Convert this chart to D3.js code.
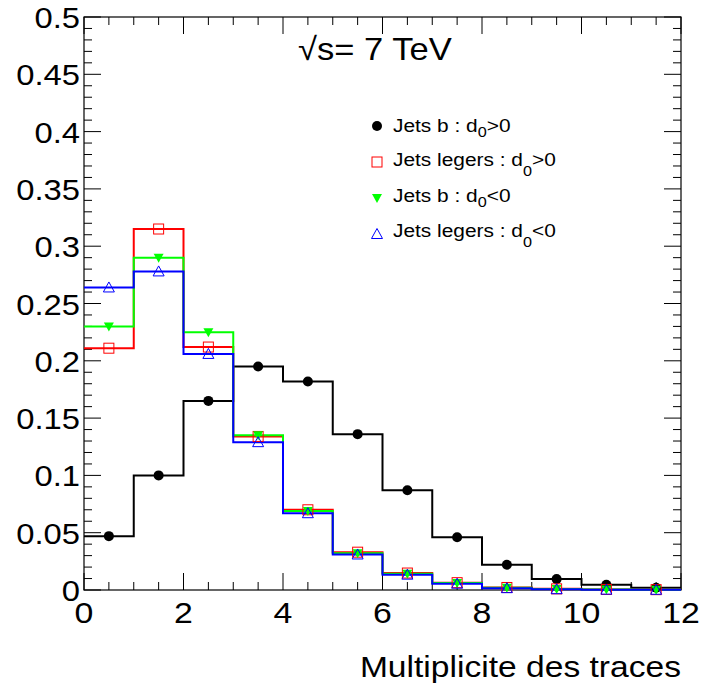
<!DOCTYPE html>
<html><head><meta charset="utf-8">
<script src="https://cdn.jsdelivr.net/npm/d3@7"></script>
<style>body{margin:0;background:#fff}svg text{font-family:"Liberation Sans",Arial,Helvetica,sans-serif}</style>
</head><body>
<svg id="c" width="701" height="692"></svg>
<script>
const binEdges = [0,1,2,3,4,5,6,7,8,9,10,11,12];
const binCenters = [0.5,1.5,2.5,3.5,4.5,5.5,6.5,7.5,8.5,9.5,10.5,11.5];
const jetsBPos   = [0.047,0.100,0.165,0.195,0.182,0.136,0.087,0.046,0.022,0.0095,0.0045,0.002];
const legersPos  = [0.211,0.315,0.212,0.134,0.070,0.033,0.0148,0.0064,0.0022,0.0010,0.0005,0.0003];
const jetsBNeg   = [0.230,0.290,0.225,0.135,0.069,0.032,0.0142,0.0060,0.0020,0.0009,0.0004,0.0002];
const legersNeg  = [0.264,0.278,0.206,0.129,0.067,0.031,0.0134,0.0055,0.0016,0.0007,0.0003,0.0002];
const yTicks = [0,0.05,0.1,0.15,0.2,0.25,0.3,0.35,0.4,0.45,0.5];
const yTickLabels = ["0","0.05","0.1","0.15","0.2","0.25","0.3","0.35","0.4","0.45","0.5"];
const xTicks = [0,2,4,6,8,10,12];
const legendLabels = ["Jets b : d","Jets legers : d","Jets b : d","Jets legers : d"];
const legendTails = [">0",">0","<0","<0"];

const L=84,R=681,T=17,B=590;
const svg=d3.select("#c");
const x=d3.scaleLinear().domain([0,12]).range([L,R]);
const y=d3.scaleLinear().domain([0,0.5]).range([B,T]);

function txt(px,py,size,anchor,sx){
  return svg.append("text").attr("transform",`translate(${px},${py}) scale(${sx},1)`)
    .attr("font-size",size).attr("text-anchor",anchor||"start");
}

// frame
svg.append("rect").attr("x",L).attr("y",T).attr("width",R-L).attr("height",B-T)
  .attr("fill","none").attr("stroke","#000").attr("stroke-width",1.2);

// ticks
const g=svg.append("g").attr("stroke","#000").attr("stroke-width",1);
d3.range(0,12.01,0.5).forEach(v=>{
  const major=Math.abs(v/2-Math.round(v/2))<1e-6;
  const len=major?17:8;
  g.append("line").attr("x1",x(v)).attr("x2",x(v)).attr("y1",B).attr("y2",B-len);
  g.append("line").attr("x1",x(v)).attr("x2",x(v)).attr("y1",T).attr("y2",T+len);
});
d3.range(0,0.5001,0.01).forEach(v=>{
  const major=Math.abs(v/0.05-Math.round(v/0.05))<1e-6;
  const len=major?17:8;
  g.append("line").attr("y1",y(v)).attr("y2",y(v)).attr("x1",L).attr("x2",L+len);
  g.append("line").attr("y1",y(v)).attr("y2",y(v)).attr("x1",R).attr("x2",R-len);
});

// tick labels
yTicks.forEach((v,i)=>{
  txt(L-4,y(v)+11,29,"end",1.13).text(yTickLabels[i]);
});
xTicks.forEach(v=>{
  txt(x(v),623,30,"middle",1.13).text(v);
});
txt(R,677,30,"end",1.12).text("Multiplicite des traces");

// title
const tt=txt(298,60,32,"start",1.08);
tt.append("tspan").text("\u221A");
tt.append("tspan").text("s= 7 TeV");

// series
const series=[
  {vals:jetsBPos,color:"#000000",marker:"circle"},
  {vals:legersPos,color:"#ff0000",marker:"square"},
  {vals:jetsBNeg,color:"#00ff00",marker:"tridown"},
  {vals:legersNeg,color:"#0000ff",marker:"triup"}
];
function stepPath(vals){
  let p="";
  vals.forEach((v,i)=>{
    const x0=x(binEdges[i]),x1=x(binEdges[i+1]),yy=y(v);
    p+=(i===0?"M":"L")+x0+","+yy+"L"+x1+","+yy;
  });
  return p;
}
function drawMarker(sel,type,cx,cy,color){
  if(type==="circle") sel.append("circle").attr("cx",cx).attr("cy",cy).attr("r",5).attr("fill",color);
  else if(type==="square") sel.append("rect").attr("x",cx-5).attr("y",cy-5).attr("width",10).attr("height",10)
    .attr("fill","none").attr("stroke",color).attr("stroke-width",1);
  else if(type==="tridown") sel.append("path").attr("d",`M${cx-5},${cy-4}L${cx+5},${cy-4}L${cx},${cy+5}Z`).attr("fill",color);
  else sel.append("path").attr("d",`M${cx-5.5},${cy+4.5}L${cx+5.5},${cy+4.5}L${cx},${cy-5.5}Z`)
    .attr("fill","none").attr("stroke",color).attr("stroke-width",1);
}
series.forEach(s=>{
  svg.append("path").attr("d",stepPath(s.vals)).attr("fill","none").attr("stroke",s.color).attr("stroke-width",2);
});
series.forEach(s=>{
  const gg=svg.append("g");
  s.vals.forEach((v,i)=>drawMarker(gg,s.marker,x(binCenters[i]),y(v),s.color));
});

// legend
const markY=[126,162,198,234];
const baseY=[132,166,202,237];
series.forEach((s,i)=>{
  drawMarker(svg,s.marker,377,markY[i],s.color);
  const drop=(i%2===0)?5:10;
  const t=txt(393,baseY[i],18,"start",1.16);
  t.append("tspan").text(legendLabels[i]);
  t.append("tspan").attr("dy",drop).attr("font-size",14).text("0");
  t.append("tspan").attr("dy",-drop).text(legendTails[i]);
});
</script>
</body></html>
